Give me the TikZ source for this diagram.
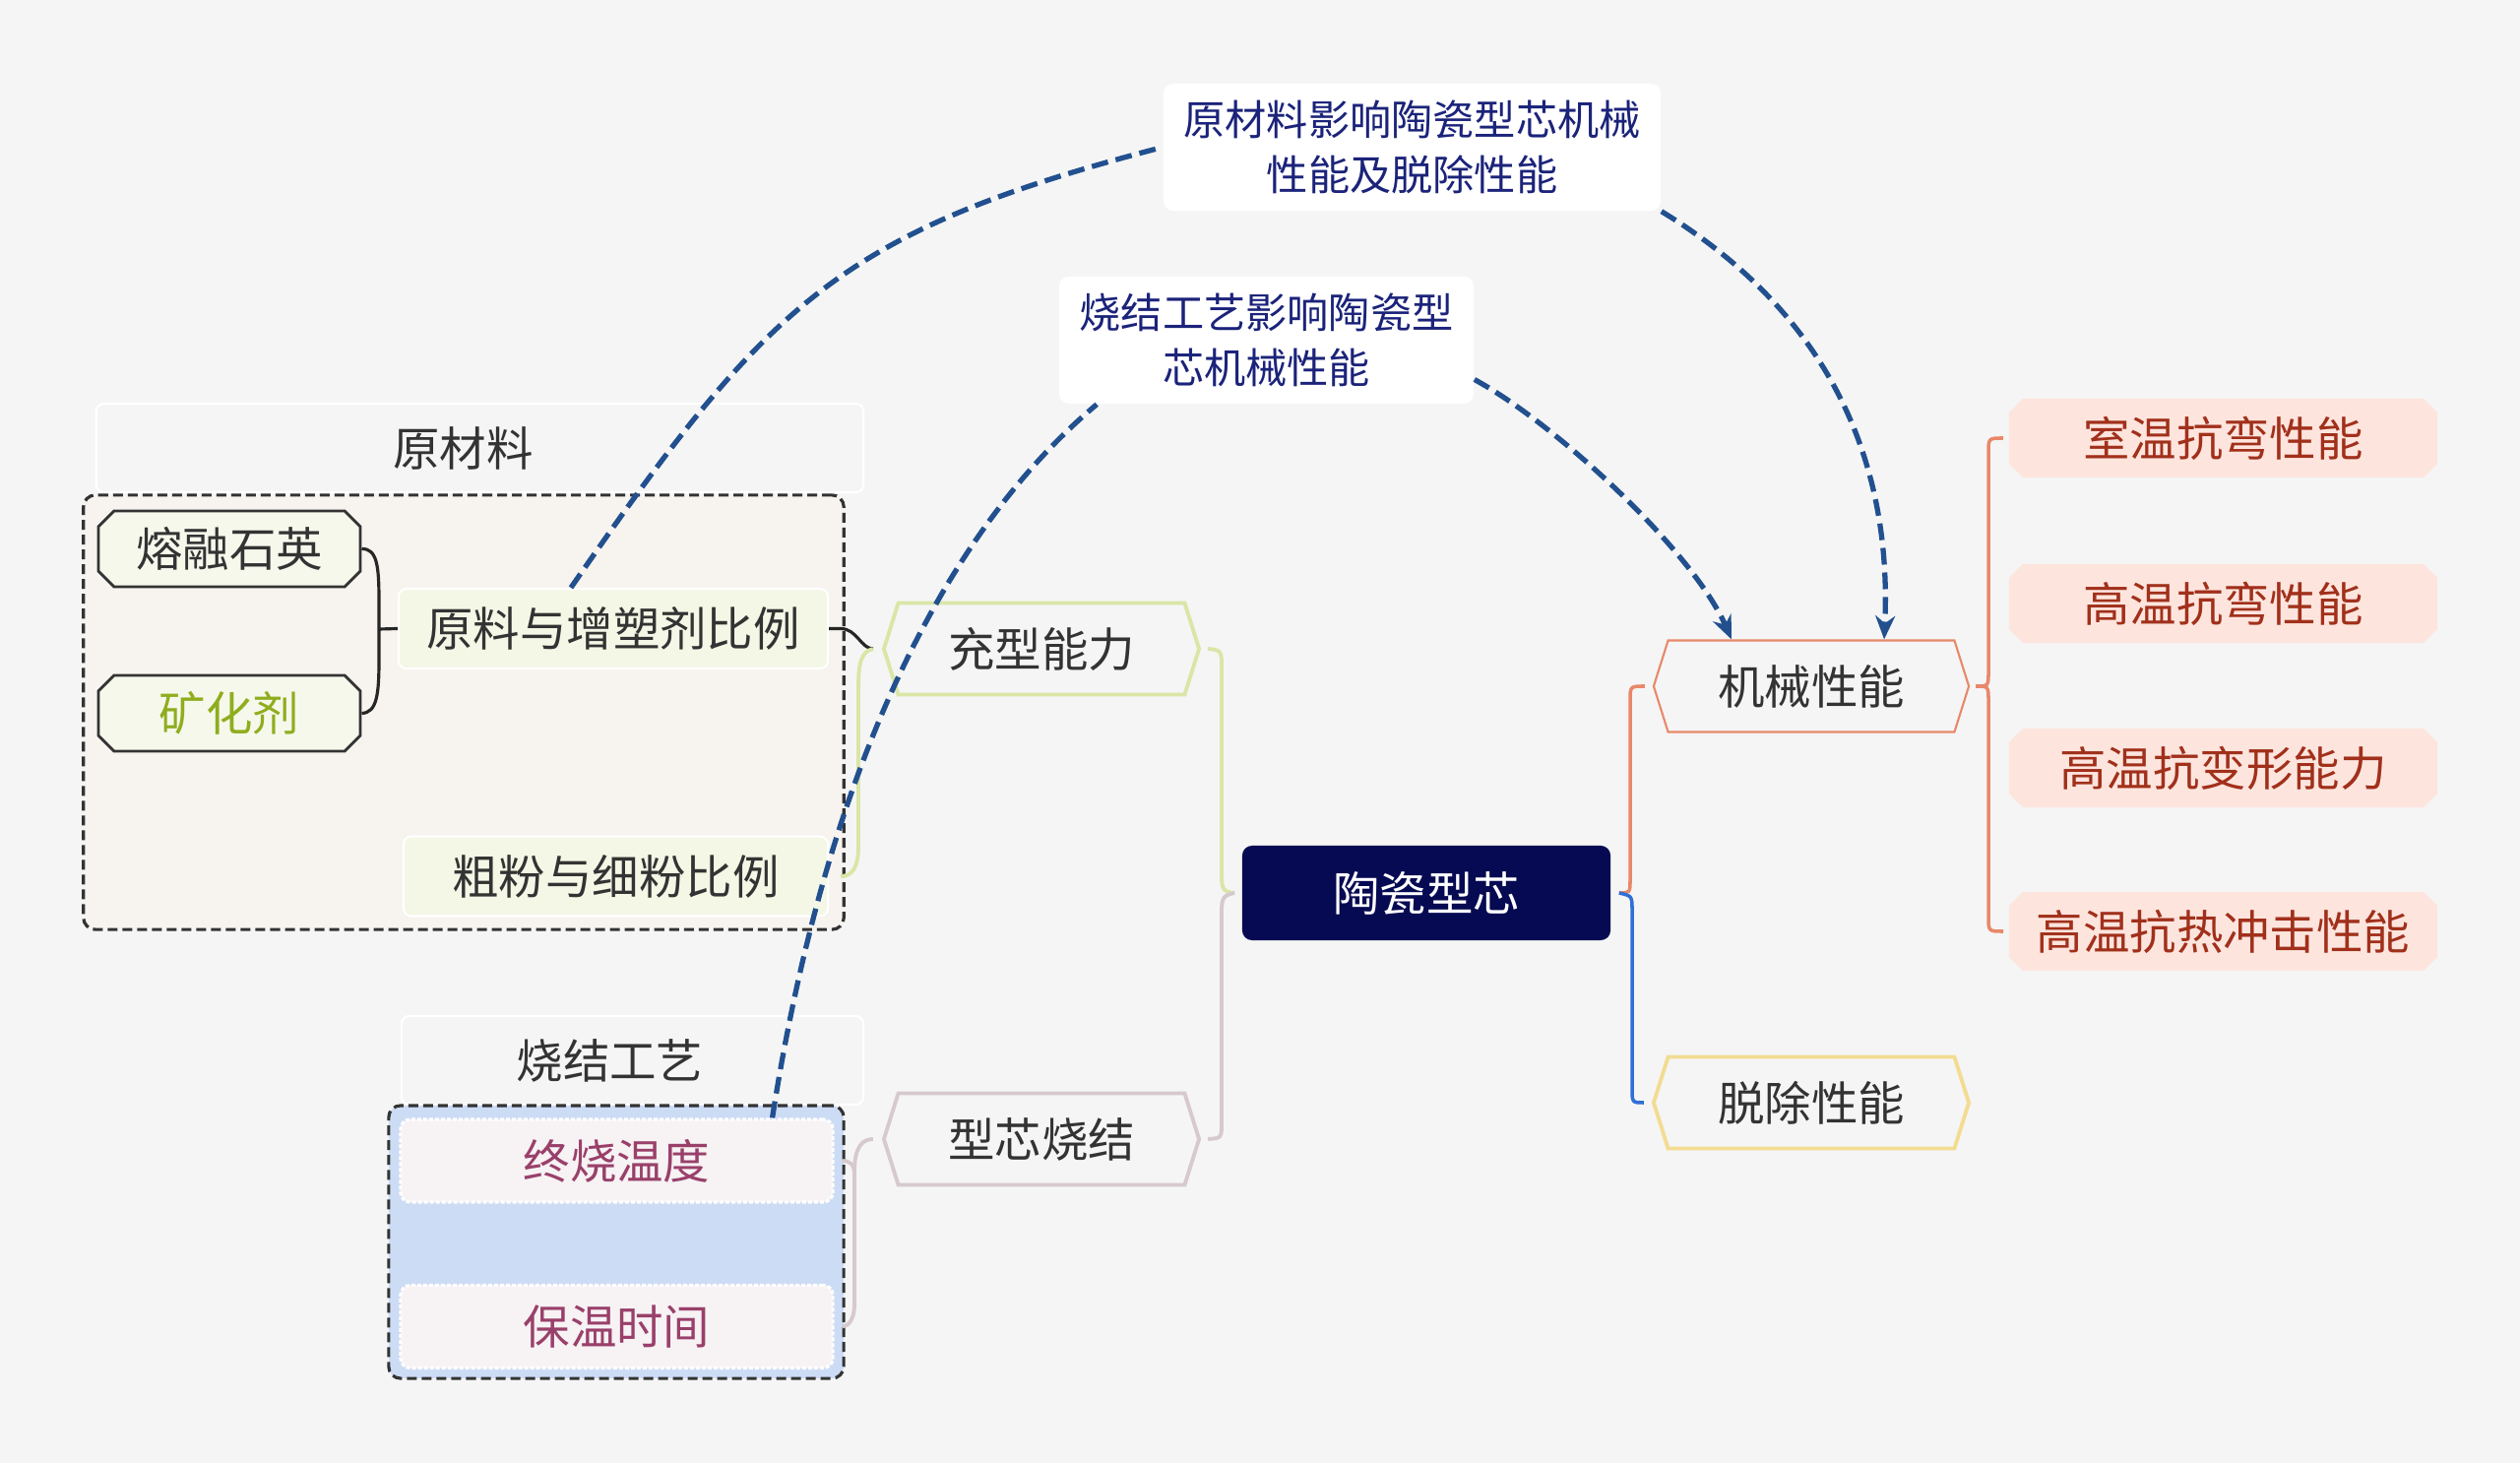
\documentclass[tikz,border=0pt]{standalone}
\usepackage{fontspec}
\setmainfont{Noto Sans CJK SC}
\usepackage{tikz}
\usetikzlibrary{positioning}
\usetikzlibrary{calc}
\usetikzlibrary{shapes.symbols, shapes.misc}
\usetikzlibrary{arrows.meta}

\definecolor{bgcol}{HTML}{F5F5F5}
\definecolor{txtdark}{HTML}{333333}
\definecolor{corefill}{HTML}{060A52}
\definecolor{greenln}{HTML}{D9E6A6}
\definecolor{purpln}{HTML}{D6C9CF}
\definecolor{salmonln}{HTML}{E8886A}
\definecolor{blueln}{HTML}{2F6FD6}
\definecolor{yellowln}{HTML}{F3DC92}
\definecolor{leaffill}{HTML}{FDE5DE}
\definecolor{leaftxt}{HTML}{A1301B}
\definecolor{ratiofill}{HTML}{F4F7E6}
\definecolor{quartzfill}{HTML}{F6F8EC}
\definecolor{mineraltxt}{HTML}{8FAD1E}
\definecolor{grpfillA}{HTML}{F7F3EF}
\definecolor{grpfillB}{HTML}{CDDCF5}
\definecolor{tempfill}{HTML}{F7F2F4}
\definecolor{temptxt}{HTML}{99406A}
\definecolor{labtxt}{HTML}{1B237A}
\definecolor{arrowblue}{HTML}{22508F}

\begin{document}
\begin{tikzpicture}[x=0.01cm, y=-0.01cm,
    every node/.style={inner sep=0pt, font=\fontsize{13.5}{16}\selectfont, text=txtdark},
    hexbox/.style={shape=signal, signal to=west and east, signal pointer angle=145,
      minimum width=3.2cm, minimum height=0.93cm, fill=bgcol, line width=1.1pt},
    leafbox/.style={chamfered rectangle, chamfered rectangle xsep=0.07cm, chamfered rectangle ysep=0.07cm,
      fill=leaffill, text=leaftxt, minimum width=4.35cm, minimum height=0.8cm},
    headbox/.style={draw=white, fill=bgcol, rounded corners=0.08cm, line width=0.6pt},
    groupbox/.style={draw=txtdark, dash pattern=on 0.1cm off 0.05cm, line width=0.9pt, rounded corners=0.12cm},
    itembox/.style={chamfered rectangle, chamfered rectangle xsep=0.08cm, chamfered rectangle ysep=0.08cm,
      draw=txtdark, fill=quartzfill, line width=0.8pt, minimum width=2.66cm, minimum height=0.77cm},
    ratiobox/.style={draw=white, fill=ratiofill, rounded corners=0.08cm, line width=0.6pt,
      minimum height=0.81cm},
    tempbox/.style={draw=white, fill=tempfill, text=temptxt, rounded corners=0.1cm, line width=0.9pt,
      dash pattern=on 0.04cm off 0.02cm, minimum width=4.39cm, minimum height=0.84cm},
    labbox/.style={fill=white, rounded corners=0.1cm, text=labtxt, align=center,
      font=\fontsize{12}{16}\selectfont},
    greenline/.style={draw=greenln, line width=1.1pt},
    purpline/.style={draw=purpln, line width=1.1pt},
    salmonline/.style={draw=salmonln, line width=1pt},
    blueline/.style={draw=blueln, line width=1pt},
    blackline/.style={draw=black!85, line width=0.9pt},
    linkarrow/.style={draw=arrowblue, line width=1.5pt, dash pattern=on 0.17cm off 0.08cm}]

  \fill[bgcol] (0,0) rectangle (2560,1486);
  \useasboundingbox (0,0) rectangle (2560,1486);

  % centre and main branches
  \node[fill=corefill, text=white, rounded corners=0.1cm, minimum width=3.74cm, minimum height=0.96cm] (core) at (1449,907) {陶瓷型芯};
  \node[hexbox, draw=greenln] (fill) at (1058,659) {充型能力};
  \node[hexbox, draw=purpln] (sinter) at (1058,1157) {型芯烧结};
  \node[hexbox, draw=salmonln, line width=0.6pt] (mech) at (1840,697) {机械性能};
  \node[hexbox, draw=yellowln] (remove) at (1840,1120) {脱除性能};

  \foreach \name/\txt/\y in {leafa/室温抗弯性能/445, leafb/高温抗弯性能/613,
      leafc/高温抗变形能力/780, leafd/高温抗热冲击性能/946} {
    \node[leafbox] (\name) at (2258.5,\y) {\txt};
  }

  % raw material group
  \node[headbox, minimum width=7.79cm, minimum height=0.9cm] (headA) at (487.5,455) {\hspace*{-0.34cm}原材料};
  \node[groupbox, fill=grpfillA, minimum width=7.72cm, minimum height=4.41cm] (grpA) at (471,723.5) {};
  \node[itembox] (quartz) at (233,557.5) {熔融石英};
  \node[itembox, text=mineraltxt] (mineral) at (233,724.5) {矿化剂};
  \node[ratiobox, minimum width=4.36cm] (ratio) at (623,638.5) {原料与增塑剂比例};
  \node[ratiobox, minimum width=4.31cm] (powder) at (625.5,890) {粗粉与细粉比例};

  % sintering group
  \node[headbox, minimum width=4.69cm, minimum height=0.9cm] (headB) at (642.5,1077) {\hspace*{-0.46cm}烧结工艺};
  \node[groupbox, fill=grpfillB, minimum width=4.62cm, minimum height=2.77cm] (grpB) at (626,1261.5) {};
  \node[tempbox] (temp) at (626.5,1179) {终烧温度};
  \node[tempbox] (hold) at (626.5,1347.5) {保温时间};

  % tree connectors
  \draw[blackline] (quartz.east) .. controls (383,557) and (385,575) .. (385,610) -- (385,670)
    .. controls (385,705) and (383,724) .. (mineral.east);
  \draw[blackline] (385,639) -- (ratio.west);
  \draw[blackline] (ratio.east) -- ++(12,0) .. controls +(16,0) and +(-12,0) .. ([xshift=-0.09cm]fill.west);
  \draw[greenline] ([xshift=-0.09cm]fill.west) .. controls (874,662) and (872,675) .. (872,700) -- (872,860)
    .. controls (872,882) and (865,890) .. ([xshift=0.12cm]powder.east);

  \draw[greenline] ([xshift=0.07cm]fill.east) .. controls (1241,660) and (1241,662) .. (1241,678) -- (1241,890)
    .. controls (1241,903) and (1243,906) .. ([xshift=-0.07cm]core.west);
  \draw[purpline] ([xshift=-0.07cm]core.west) .. controls (1243,909) and (1241,912) .. (1241,926) -- (1241,1140)
    .. controls (1241,1156) .. ([xshift=0.07cm]sinter.east);
  \draw[purpline] ([xshift=-0.09cm]sinter.west) .. controls (876,1157) and (868,1165) .. (868,1190) -- (868,1325)
    .. controls (868,1340) and (862,1347) .. ([xshift=0.08cm]hold.east);
  \draw[purpline] (868,1192) .. controls (868,1182) and (862,1179) .. ([xshift=0.08cm]temp.east);

  \draw[salmonline] ([xshift=0.08cm]core.east) .. controls (1656,907) .. (1656,893) -- (1656,712)
    .. controls (1656,697) .. ([xshift=-0.08cm]mech.west);
  \draw[blueline] ([xshift=0.08cm]core.east) .. controls (1658,910) .. (1658,925) -- (1658,1105)
    .. controls (1658,1120) .. ([xshift=-0.08cm]remove.west);
  \draw[salmonline] ([xshift=0.06cm]mech.east) .. controls (2020,697) .. (2020,682) -- (2020,460)
    .. controls (2020,445) .. ([xshift=-0.05cm]leafa.west);
  \draw[salmonline] ([xshift=0.06cm]mech.east) .. controls (2020,697) .. (2020,712) -- (2020,931)
    .. controls (2020,946) .. ([xshift=-0.05cm]leafd.west);

  % relation labels
  \node[labbox, minimum width=5.05cm, minimum height=1.29cm] (lab1) at (1434.5,149.5) {原材料影响陶瓷型芯机械\\性能及脱除性能};
  \node[labbox, minimum width=4.21cm, minimum height=1.29cm] (lab2) at (1286.5,345.5) {烧结工艺影响陶瓷型\\芯机械性能};

  \draw[linkarrow] ([xshift=-0.43cm]ratio.north) .. controls (780,308) and (852,235) .. (lab1.west);
  \draw[linkarrow, -{Stealth[length=0.24cm, width=0.2cm]}] (lab1.south east) .. controls (1867,324) and (1922,480) .. ([xshift=0.74cm]mech.north);
  \draw[linkarrow] ([xshift=1.58cm]temp.north) .. controls (840,780) and (960,540) .. ([xshift=0.39cm]lab2.south west);
  \draw[linkarrow, -{Stealth[length=0.24cm, width=0.2cm]}] ([yshift=-0.4cm]lab2.east) .. controls (1580,430) and (1720,560) .. ([xshift=-0.81cm]mech.north);

\end{tikzpicture}
\end{document}
